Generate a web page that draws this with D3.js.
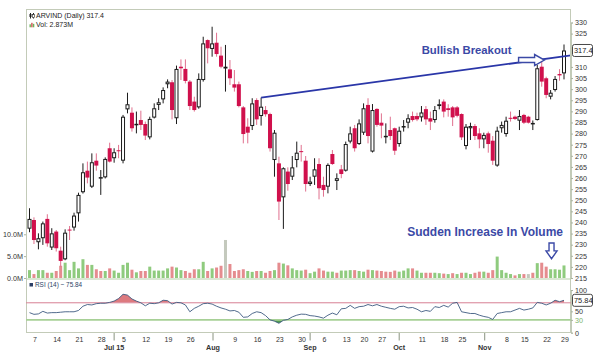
<!DOCTYPE html>
<html><head><meta charset="utf-8">
<script src="https://cdn.jsdelivr.net/npm/d3@7"></script>
<style>
body{margin:0;background:#fff}
svg{display:block}
text{font-family:"Liberation Sans",Arial,sans-serif}
</style>
</head><body>
<svg id="c" width="594" height="353"></svg>
<script>
// ---------- DATA ----------
const dates = [
"2015-06-04","2015-06-05","2015-06-08","2015-06-09","2015-06-10","2015-06-11","2015-06-12","2015-06-15","2015-06-16","2015-06-17",
"2015-06-18","2015-06-19","2015-06-22","2015-06-23","2015-06-24","2015-06-25","2015-06-26","2015-06-29","2015-06-30",
"2015-07-01","2015-07-02","2015-07-03","2015-07-06","2015-07-07","2015-07-08","2015-07-09","2015-07-10","2015-07-13","2015-07-14",
"2015-07-15","2015-07-16","2015-07-17","2015-07-20","2015-07-21","2015-07-22","2015-07-23","2015-07-24","2015-07-27","2015-07-28",
"2015-07-29","2015-07-30","2015-07-31",
"2015-08-03","2015-08-04","2015-08-05","2015-08-06","2015-08-07","2015-08-10","2015-08-11","2015-08-12","2015-08-13","2015-08-14",
"2015-08-17","2015-08-18","2015-08-19","2015-08-20","2015-08-21","2015-08-24","2015-08-25","2015-08-26","2015-08-27","2015-08-28",
"2015-08-31",
"2015-09-01","2015-09-02","2015-09-03","2015-09-04","2015-09-07","2015-09-08","2015-09-09","2015-09-10","2015-09-11","2015-09-14",
"2015-09-15","2015-09-16","2015-09-18","2015-09-21","2015-09-22","2015-09-23","2015-09-24","2015-09-28","2015-09-29","2015-09-30",
"2015-10-01","2015-10-05","2015-10-06","2015-10-07","2015-10-08","2015-10-09","2015-10-12","2015-10-13","2015-10-14","2015-10-15",
"2015-10-16","2015-10-19","2015-10-20","2015-10-21","2015-10-23","2015-10-26","2015-10-27","2015-10-28","2015-10-29","2015-10-30",
"2015-11-02","2015-11-03","2015-11-04","2015-11-05","2015-11-06","2015-11-09","2015-11-10","2015-11-11","2015-11-13","2015-11-16",
"2015-11-17","2015-11-18","2015-11-19","2015-11-20","2015-11-23","2015-11-24","2015-11-26","2015-11-27"
];
const open = [237.2,241.1,231.1,232.9,241.6,228.7,235.9,227.3,223.4,236.8,237.7,244.1,253.6,263.3,256.1,267.8,260.2,260.3,273.4,268.9,
272.5,267.8,290.9,289.4,284.2,286.1,284.3,278.3,287.2,292.9,295.4,302.2,303.1,286.9,310.1,309.1,303.4,294.4,291.8,304.1,
322.1,318.1,320.9,315.1,309.3,308.9,302.2,302.2,291.8,283.1,283.4,295.1,287.9,290.6,288.8,268.1,266.6,251.3,262.9,260.6,
268.1,272.1,267.8,257.3,260.6,266.3,256.9,256.1,270.8,258.7,263.9,263.3,276.4,282.4,275.3,280.4,292.9,271.9,291.1,284.9,
278.8,281.6,282.4,275.3,282.8,284.9,287.9,287.9,287.3,291.0,286.9,286.1,292.4,294.4,291.4,291.8,291.8,288.8,274.4,282.4,
283.4,280.1,277.4,280.1,276.8,265.6,282.4,279.8,287.1,287.6,285.8,288.4,287.6,284.4,286.1,310.1,304.9,296.6,299.6,306.8,307.1];
const high = [246.4,242.3,235.1,240.4,243.7,237.4,236.6,229.1,236.9,238.4,244.4,253.4,266.6,267.4,271.1,271.1,263.6,269.3,275.9,273.4,
274.9,288.4,298.4,291.8,289.9,290.3,285.4,287.6,293.6,295.9,300.8,304.4,304.1,310.6,313.4,313.4,304.1,296.6,307.1,323.6,
322.4,328.1,325.4,319.1,319.9,313.1,308.6,303.4,292.4,286.9,295.9,295.9,296.2,292.4,289.4,281.6,269.6,264.8,264.8,269.9,
276.4,274.9,269.9,260.6,268.9,268.9,260.6,266.6,272.6,262.1,265.9,276.4,283.1,283.9,286.4,293.6,295.9,293.3,291.4,289.1,
284.6,287.6,282.7,283.1,286.1,288.7,289.9,289.4,292.4,292.4,289.9,292.4,295.4,295.4,293.2,292.4,292.4,289.1,284.3,284.9,
284.3,282.4,280.4,280.9,278.9,283.1,285.4,287.6,289.9,288.1,290.6,288.9,288.0,285.9,310.9,313.4,305.6,299.6,305.9,309.0,320.1];
const low = [235.6,230.3,227.9,229.9,229.1,227.6,226.9,220.1,223.0,232.1,236.3,240.4,253.0,257.6,255.5,263.3,252.4,259.8,267.0,266.9,
268.9,266.6,289.1,280.9,280.1,281.6,277.1,277.4,286.8,290.6,293.6,300.4,286.4,284.3,304.1,302.6,290.6,289.9,291.2,303.4,
311.6,314.6,314.6,309.4,298.9,301.9,298.9,291.8,275.6,275.6,281.6,283.9,283.6,287.6,271.9,260.6,241.1,237.1,254.3,259.1,
264.8,267.4,253.9,256.4,256.9,250.4,251.6,253.1,265.9,254.6,259.9,262.9,275.6,271.9,274.9,279.4,275.6,271.5,283.1,277.9,
275.6,277.1,270.4,274.1,280.9,282.4,285.4,285.6,285.4,283.9,281.6,284.9,290.9,287.3,287.6,283.4,287.3,277.1,272.9,277.1,
277.1,273.4,273.4,271.4,265.9,265.1,280.4,278.6,285.4,286.1,281.6,284.3,284.5,281.6,285.9,301.1,295.9,295.4,298.9,303.8,304.4];
const close = [241.6,232.1,232.9,239.6,230.6,235.1,228.4,222.7,235.4,236.4,243.1,252.4,262.6,260.2,267.1,265.6,260.4,268.6,267.4,271.6,
272.2,287.6,293.2,282.4,284.4,283.9,279.1,286.6,291.4,294.1,299.6,303.4,290.6,309.1,309.4,303.7,292.4,290.6,304.6,320.6,
318.4,320.6,315.8,310.1,310.1,304.9,300.7,292.4,279.8,280.4,293.6,286.4,292.1,288.7,273.4,280.4,249.4,264.4,257.3,264.8,
271.4,271.7,257.3,258.4,263.9,255.4,254.6,265.9,266.3,259.9,261.8,275.3,280.1,273.4,284.6,291.4,278.9,290.6,283.9,283.6,
279.0,278.9,272.3,281.3,283.4,286.9,286.1,286.4,289.5,286.4,285.4,290.6,293.2,289.9,290.6,287.3,288.0,278.3,283.1,283.4,
278.9,277.4,279.4,275.3,267.8,281.3,283.9,285.8,286.7,286.6,287.9,284.9,284.9,284.8,309.4,303.4,297.4,298.4,304.6,306.2,317.4];
// volume in millions
const volume = [1.8,0.9,1.8,1.8,1.2,1.2,1.6,2.8,3.5,1.8,3.7,2.2,4.3,3.0,3.0,2.0,1.6,1.6,2.2,1.7,
1.2,3.0,3.5,1.9,1.3,1.6,1.6,2.6,1.7,1.7,1.7,2.2,2.6,2.4,1.8,1.6,1.2,2.0,2.0,3.7,
1.6,2.2,2.4,2.8,8.7,3.2,1.6,1.8,2.0,1.6,1.4,1.6,1.6,1.2,1.6,1.8,3.5,3.3,2.9,2.2,
1.8,1.7,1.9,1.1,1.45,2.2,1.7,1.45,1.45,1.2,1.7,1.7,1.8,1.8,1.6,1.45,1.9,1.8,1.7,1.6,
1.45,1.4,1.7,1.45,1.7,2.2,2.2,1.7,1.2,1.2,1.2,1.2,1.1,1.0,0.9,1.1,0.9,1.2,1.2,0.9,
1.2,1.45,1.45,1.2,1.8,4.9,1.8,1.2,0.9,0.6,0.9,0.9,0.9,1.2,3.4,3.5,2.6,2.0,2.0,1.9,2.873];
const rsi = [47,43,44,50,46,47,47,48,49,49,49,52,62,66,65,68,69,69,71,74,
80,90,88,79,74,70,63,69,68,70,76,75,67,71,70,65,49,57,62,68,
69,67,62,58,55,51,52,48,36,37,45,49,47,40,30,27,22,29,31,37,
41,43.5,43,40,39,37,34,41,46,42,56,57,64,57,61,62,66,63,66,62,
59.5,57,55,61,62,58,59,55,49,52,50,61,59,64,60,69,71,49,47,45,
45,41,38,36,31,45,47,49,49,53,57,53,55,58,71,69,65,69,76,72.6,75.84];
const priceTicks = [215,220,225,230,235,240,245,250,255,260,265,270,275,280,285,290,295,300,305,310,315,320,325,330];
const volTicks = [0,5,10];
const rsiTicks = [0,30,50,70,100];
const weekSundays = ["2015-06-07","2015-06-14","2015-06-21","2015-06-28","2015-07-05","2015-07-12","2015-07-19","2015-07-26",
"2015-08-02","2015-08-09","2015-08-16","2015-08-23","2015-08-30","2015-09-06","2015-09-13","2015-09-20","2015-09-27",
"2015-10-04","2015-10-11","2015-10-18","2015-10-25","2015-11-01","2015-11-08","2015-11-15","2015-11-22","2015-11-29"];
const monthLabels = ["Jul 15","Aug","Sep","Oct","Nov"];
const monthStarts = ["2015-07-01","2015-08-01","2015-09-01","2015-10-01","2015-11-01"];
// trend line: two touch points (index, price)
const trendIdx = [52,115];
const trendPrice = [296.2,313.4];

// ---------- LAYOUT ----------
const L=26, R=571, T=9, PB=279, RB=333;
const svg = d3.select('#c');
const n = dates.length;
const x = d3.scaleLinear().domain([0,n-1]).range([29.5,564]);
const y = d3.scaleLinear().domain([215,330]).range([278,22.5]);
const yv = d3.scaleLinear().domain([0,10]).range([278,234.3]);
const yr = d3.scaleLinear().domain([0,100]).range([332.7,290]);
const idx = d3.range(n);
const borderCol = '#c3cbb8';

svg.append('rect').attr('width',594).attr('height',353).attr('fill','#fff');

const defs = svg.append('defs');
defs.append('clipPath').attr('id','pc').append('rect').attr('x',L).attr('y',T).attr('width',R-L).attr('height',PB-T);
defs.append('clipPath').attr('id','rc').append('rect').attr('x',L).attr('y',PB).attr('width',R-L).attr('height',RB-PB);
defs.append('clipPath').attr('id','above70').append('rect').attr('x',L).attr('y',PB).attr('width',R-L).attr('height',yr(70)-PB);
defs.append('clipPath').attr('id','below30').append('rect').attr('x',L).attr('y',yr(30)).attr('width',R-L).attr('height',RB-yr(30));

// ---------- VOLUME ----------
const gp = svg.append('g').attr('clip-path','url(#pc)');
const volCol = i => i===0 ? '#8fcb7e' : (close[i]>close[i-1] ? '#8fcb7e' : close[i]<close[i-1] ? '#e58c8f' : '#c4c9bd');
gp.selectAll('rect.v').data(idx).join('rect').attr('class','v')
  .attr('x',i=>x(i)-1.5).attr('width',3)
  .attr('y',i=>yv(volume[i])).attr('height',i=>yv(0)-yv(volume[i]))
  .attr('fill',volCol);

// ---------- CANDLES ----------
const up = i => close[i] >= open[i];
gp.selectAll('line.w').data(idx).join('line').attr('class','w')
  .attr('x1',i=>x(i)).attr('x2',i=>x(i))
  .attr('y1',i=>y(high[i])).attr('y2',i=>y(low[i]))
  .attr('stroke',i=>up(i)?'#1a1a1a':'#e0708e').attr('stroke-width',1);
gp.selectAll('rect.b').data(idx).join('rect').attr('class','b')
  .attr('x',i=>up(i)?x(i)-1.5:x(i)-2)
  .attr('width',i=>up(i)?3:4)
  .attr('y',i=>y(Math.max(open[i],close[i])) + (up(i)?0.5:0))
  .attr('height',i=>Math.max(up(i)?0.5:1, Math.abs(y(open[i])-y(close[i])) - (up(i)?1:0)))
  .attr('fill',i=>up(i)?'#fff':'#d0104c')
  .attr('stroke',i=>up(i)?'#1a1a1a':'none').attr('stroke-width',1);

// ---------- TREND LINE ----------
const slope = (trendPrice[1]-trendPrice[0])/(trendIdx[1]-trendIdx[0]);
const endIdx = x.invert(R);
gp.append('line')
  .attr('x1',x(trendIdx[0])).attr('y1',y(trendPrice[0]))
  .attr('x2',x(endIdx)).attr('y2',y(trendPrice[0]+slope*(endIdx-trendIdx[0])))
  .attr('stroke','#2a36a8').attr('stroke-width',1.8);

// ---------- PANEL BORDERS ----------
svg.append('rect').attr('x',L+0.5).attr('y',T+0.5).attr('width',R-L-1).attr('height',RB-T-1)
  .attr('fill','none').attr('stroke',borderCol);
svg.append('line').attr('x1',L).attr('x2',R).attr('y1',PB).attr('y2',PB).attr('stroke','#b5cfa8').attr('stroke-width',1.2);

// ---------- RSI ----------
const gr = svg.append('g').attr('clip-path','url(#rc)');
const rsiArea70 = d3.area().x(i=>x(i)).y0(yr(70)).y1(i=>yr(rsi[i]));
gr.append('path').datum(idx).attr('d',rsiArea70).attr('fill','#dd7a7f').attr('clip-path','url(#above70)');
const rsiArea30 = d3.area().x(i=>x(i)).y0(yr(30)).y1(i=>yr(rsi[i]));
gr.append('path').datum(idx).attr('d',rsiArea30).attr('fill','#4f9a4f').attr('clip-path','url(#below30)');
gr.append('line').attr('x1',L).attr('x2',R).attr('y1',yr(70)).attr('y2',yr(70)).attr('stroke','#d9879a').attr('stroke-width',1);
gr.append('line').attr('x1',L).attr('x2',R).attr('y1',yr(30)).attr('y2',yr(30)).attr('stroke','#a7d096').attr('stroke-width',1.6);
gr.append('path').datum(idx).attr('d',d3.line().x(i=>x(i)).y(i=>yr(rsi[i])))
  .attr('fill','none').attr('stroke','#3d5a80').attr('stroke-width',0.9);

// ---------- AXES ----------
function styleAxis(g){
  g.select('.domain').attr('stroke',borderCol);
  g.selectAll('.tick line').attr('stroke','#aab3a0');
  g.selectAll('.tick text').attr('fill','#333').attr('font-size',7.2).attr('font-family','"Liberation Sans",Arial,sans-serif');
}
const priceBoxY = y(close[n-1]);
const rsiBoxY = yr(rsi[n-1]);
svg.append('g').attr('transform',`translate(${R},0)`)
  .call(d3.axisRight(y).tickValues(priceTicks.filter(t=>Math.abs(y(t)-priceBoxY)>10)).tickSize(2).tickPadding(2).tickFormat(d3.format('d')))
  .call(styleAxis);
svg.append('g').attr('transform',`translate(${L},0)`)
  .call(d3.axisLeft(yv).tickValues(volTicks).tickSize(2).tickPadding(1).tickFormat(d=>d.toFixed(1)+'M'))
  .call(styleAxis).call(g=>g.select('.domain').remove());
svg.append('g').attr('transform',`translate(${R},0)`)
  .call(d3.axisRight(yr).tickValues(rsiTicks.filter(t=>Math.abs(yr(t)-rsiBoxY)>10)).tickSize(2).tickPadding(2).tickFormat(d3.format('d')))
  .call(styleAxis)
  .call(g=>g.selectAll('.tick text').attr('fill',d=>d===30?'#7cb36a':'#333'));

// value boxes
function valueBox(yy,label){
  const g = svg.append('g');
  g.append('rect').attr('x',572.5).attr('y',yy-6).attr('width',20).attr('height',12).attr('rx',2)
    .attr('fill','#fff').attr('stroke','#333').attr('stroke-width',0.9);
  g.append('text').attr('x',574).attr('y',yy+2.6).attr('font-size',7.4).attr('fill','#222').text(label);
}
valueBox(priceBoxY, close[n-1].toFixed(1));
valueBox(rsiBoxY, rsi[n-1].toFixed(2));

// ---------- X AXIS ----------
const firstIdxOnOrAfter = d => { const k = dates.findIndex(s=>s>=d); return k<0?n:k; };
const monthPos = monthStarts.map(d=>{
  const k = firstIdxOnOrAfter(d);
  const isWeekStart = k===0 || (new Date(dates[k]) - new Date(dates[k-1]))/864e5 > 1.5 && new Date(dates[k]).getUTCDay()===1;
  return isWeekStart ? k-0.8 : k;
});
const weekPos = weekSundays.map(d=>firstIdxOnOrAfter(d)-0.8);
const xa = svg.append('g');
weekSundays.forEach((d,j)=>{
  const p = weekPos[j];
  if (monthPos.some(m=>Math.abs(m-p)<1.5)) return;
  xa.append('text').attr('x',x(p)).attr('y',341.6).attr('text-anchor','middle')
    .attr('font-size',7).attr('fill','#333').text(+d.slice(8));
});
monthLabels.forEach((m,j)=>{
  const px = x(monthPos[j]);
  xa.append('line').attr('x1',px).attr('x2',px).attr('y1',RB).attr('y2',340.5).attr('stroke','#8a9480');
  xa.append('text').attr('x',px).attr('y',350.4).attr('text-anchor','middle')
    .attr('font-size',7.2).attr('font-weight','bold').attr('fill','#333').text(m);
});

// ---------- LEGENDS ----------
const lg = svg.append('g');
lg.append('line').attr('x1',30.5).attr('x2',30.5).attr('y1',13).attr('y2',18.5).attr('stroke','#222');
lg.append('rect').attr('x',29.5).attr('y',14).attr('width',2).attr('height',3).attr('fill','#222');
lg.append('line').attr('x1',33.5).attr('x2',33.5).attr('y1',13).attr('y2',18.5).attr('stroke','#222');
lg.append('rect').attr('x',32.5).attr('y',14.5).attr('width',2).attr('height',3).attr('fill','#fff').attr('stroke','#222').attr('stroke-width',0.6);
lg.append('text').attr('x',36).attr('y',18.3).attr('font-size',7).attr('fill','#222').text('ARVIND (Daily) '+close[n-1].toFixed(1));
[[29.5,3,'#6bb55a'],[31.2,4.5,'#d05050'],[32.9,3.5,'#6bb55a']].forEach(b=>{
  lg.append('rect').attr('x',b[0]).attr('y',27.3-b[1]).attr('width',1.4).attr('height',b[1]).attr('fill',b[2]);
});
lg.append('text').attr('x',36).attr('y',27.3).attr('font-size',7).attr('fill','#222').text('Vol: '+volume[n-1].toFixed(3)+'M');
lg.append('rect').attr('x',29.5).attr('y',283).attr('width',3.5).attr('height',3.5).attr('fill','#2b3f66');
lg.append('text').attr('x',35).attr('y',287).attr('font-size',6.4).attr('fill','#2b3f66').text('RSI (14) ~ '+rsi[n-1].toFixed(2));

// ---------- ANNOTATIONS ----------
const annCol = '#3b49a6';
svg.append('text').attr('x',x(88.05)).attr('y',y(315.8)).attr('font-size',11.3).attr('font-weight','bold')
  .attr('fill',annCol).text('Bullish Breakout');
svg.append('text').attr('x',x(84.8)).attr('y',yv(9.7)).attr('font-size',12).attr('font-weight','bold')
  .attr('fill',annCol).text('Sudden Increase In Volume');
{
  const x0=x(109.8), x1=x(113.4), x2=x(115.6), yc=y(313.1);
  svg.append('path').attr('d',`M${x0},${yc-2.5}H${x1}V${yc-5.5}L${x2},${yc}L${x1},${yc+5.5}V${yc+2.5}H${x0}Z`)
    .attr('fill','#fff').attr('stroke',annCol).attr('stroke-width',1.4);
}
{
  const xc=x(117.2), y0=yv(8.0), y1=yv(6.2), y2=yv(4.4);
  svg.append('path').attr('d',`M${xc-2.5},${y0}V${y1}H${xc-5.5}L${xc},${y2}L${xc+5.5},${y1}H${xc+2.5}V${y0}Z`)
    .attr('fill','#fff').attr('stroke',annCol).attr('stroke-width',1.4);
}
</script>
</body></html>
